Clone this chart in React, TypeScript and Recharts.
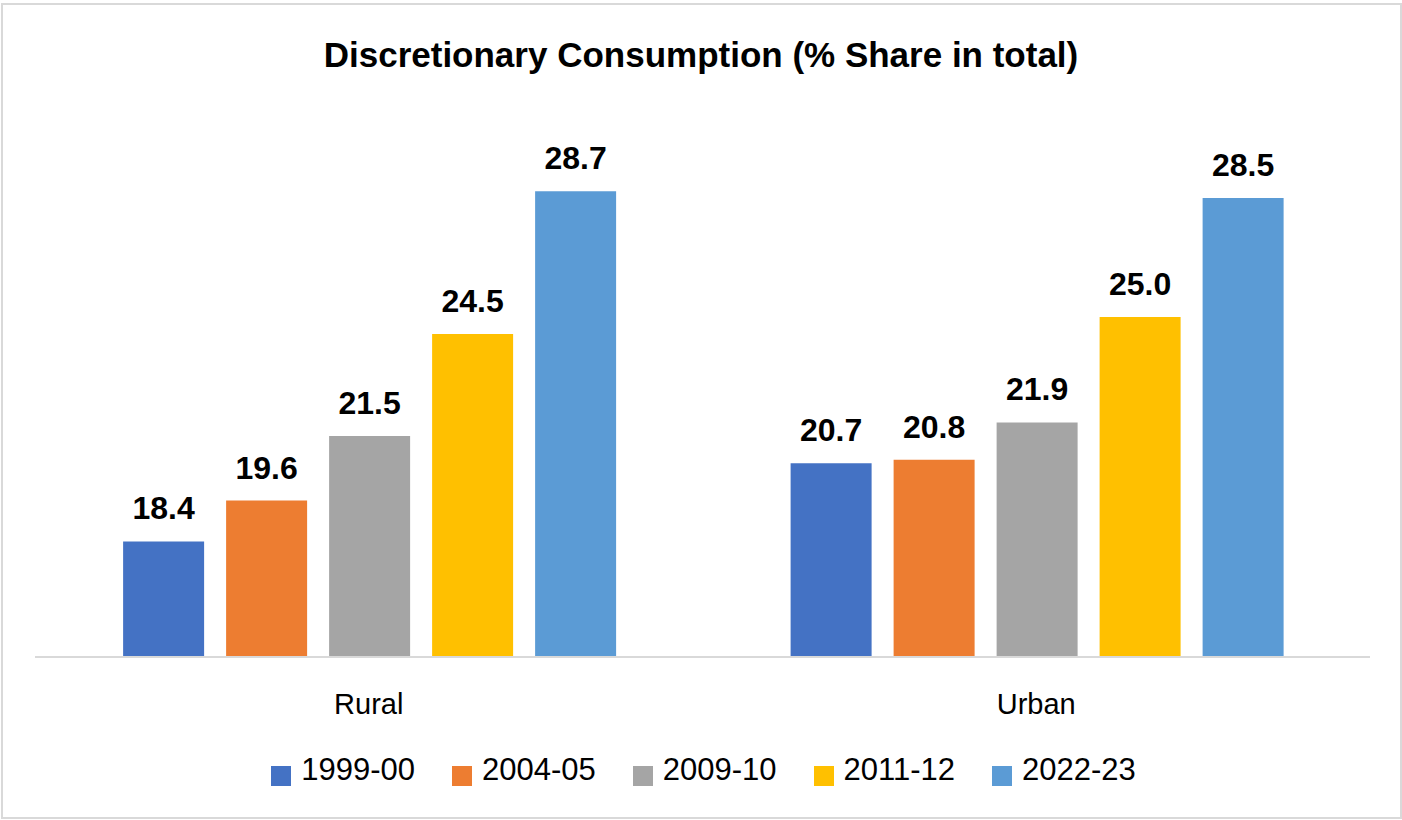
import { BarChart, Bar, XAxis, YAxis, Legend, LabelList } from 'recharts'

const CATEGORIES = ['Rural', 'Urban']
const Y1999 = [18.4, 20.7]
const Y2004 = [19.6, 20.8]
const Y2009 = [21.5, 21.9]
const Y2011 = [24.5, 25.0]
const Y2022 = [28.7, 28.5]

const SERIES = [
  { key: '1999-00', values: Y1999, color: '#4472C4' },
  { key: '2004-05', values: Y2004, color: '#ED7D31' },
  { key: '2009-10', values: Y2009, color: '#A5A5A5' },
  { key: '2011-12', values: Y2011, color: '#FFC000' },
  { key: '2022-23', values: Y2022, color: '#5B9BD5' },
]

const FONT = '"Liberation Sans", Arial, sans-serif'

const data = CATEGORIES.map((name, i) => {
  const row: Record<string, string | number> = { name }
  SERIES.forEach((s) => {
    row[s.key] = s.values[i]
  })
  return row
})

export default function App() {
  return (
    <div style={{ position: 'absolute', left: 0, top: 0, width: 1402, height: 820, background: '#fff', fontFamily: FONT }}>
      <div
        style={{
          position: 'absolute',
          left: 1,
          top: 3,
          width: 1401,
          height: 816,
          border: '2px solid #d9d9d9',
          boxSizing: 'border-box',
        }}
      />
      <div
        style={{
          position: 'absolute',
          top: 37,
          left: 0,
          width: 1402,
          textAlign: 'center',
          fontSize: 35,
          lineHeight: '35px',
          fontWeight: 'bold',
          color: '#000',
        }}
      >
        Discretionary Consumption (% Share in total)
      </div>
      <div style={{ position: 'absolute', left: 0, top: 0 }}>
        <BarChart
          width={1402}
          height={820}
          data={data}
          margin={{ top: 147, right: 32, left: 35, bottom: 123 }}
          barGap={22}
          barCategoryGap="13.2%"
          style={{ fontFamily: FONT }}
        >
          <XAxis
            dataKey="name"
            height={40}
            axisLine={{ stroke: '#d9d9d9', strokeWidth: 2 }}
            tickLine={false}
            tickSize={0}
            tickMargin={36}
            tick={{ fontSize: 29, fill: '#000' }}
          />
          <YAxis hide domain={[15, 30]} />
          <Legend
            verticalAlign="middle"
            iconType="square"
            iconSize={20}
            wrapperStyle={{ top: 752, left: 21, width: 1402, fontFamily: FONT }}
            formatter={(value) => (
              <span style={{ color: '#000', fontSize: 31, marginLeft: 6, marginRight: 27 }}>{value}</span>
            )}
          />
          {SERIES.map((s) => (
            <Bar key={s.key} dataKey={s.key} fill={s.color} isAnimationActive={false}>
              <LabelList
                dataKey={s.key}
                position="top"
                offset={22}
                formatter={(v: any) => Number(v).toFixed(1)}
                style={{ fontSize: 32, fontWeight: 'bold', fill: '#000' }}
              />
            </Bar>
          ))}
        </BarChart>
      </div>
    </div>
  )
}
